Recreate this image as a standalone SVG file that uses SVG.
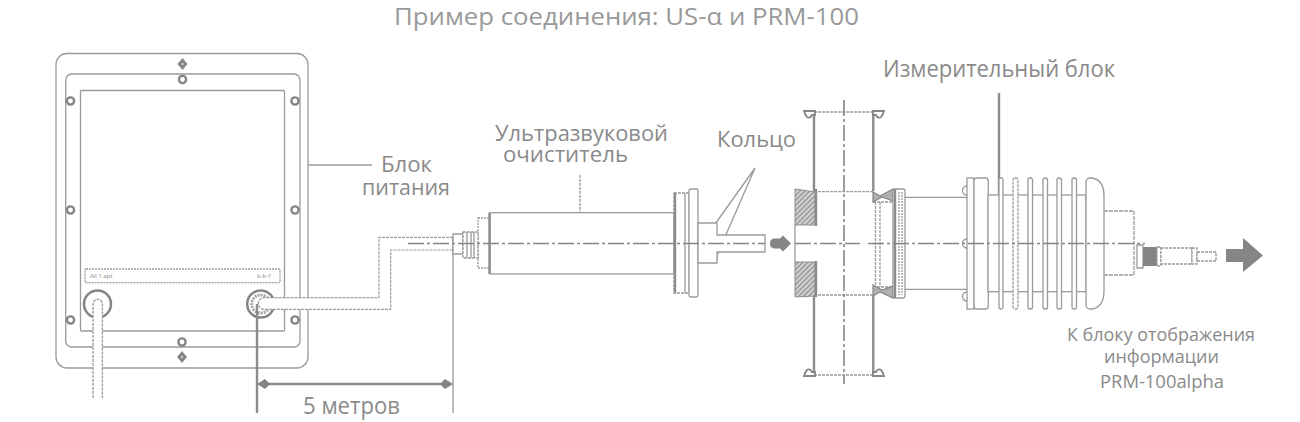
<svg xmlns="http://www.w3.org/2000/svg" width="1300" height="422" viewBox="0 0 1300 422">
<style>
.l{fill:none;stroke:#9a9a9a;stroke-width:1.3}
.w{fill:#fff;stroke:#9a9a9a;stroke-width:1.3}
.t{fill:none;stroke:#8c8c8c;stroke-width:2.4}
.c{fill:none;stroke:#858585;stroke-width:1.6;stroke-dasharray:16 3 3 3}
.s{fill:#fff;stroke:#858585;stroke-width:2.4}
.f{fill:#858585}
text{font-family:"Open Sans","Noto Sans","Liberation Sans",sans-serif;fill:#8a8a8a}
</style>
<defs>
<pattern id="h" width="3.5" height="3.5" patternUnits="userSpaceOnUse" patternTransform="rotate(45)"><rect width="3.5" height="3.5" fill="#d2d2d2"/><rect width="1.3" height="3.5" fill="#909090"/></pattern>
<g id="sc"><circle r="3.6" class="s"/></g>
<g id="dm"><path class="f" d="M0-6 5 0 0 6-5 0Z"/><circle r="1.2" fill="#ccc"/></g>
<path id="fl" fill="#fff" stroke="#858585" stroke-width="1.800" d="M0 0H11V4H8Q6 8 3 6Q1 4 0 0Z"/>
</defs>
<g id="title"><text x="394" y="25" font-size="23.500" fill="#999" style="fill:#999" textLength="465" lengthAdjust="spacingAndGlyphs">Пример соединения: US-α и PRM-100</text></g>
<g id="power-unit">
<rect class="l" x="56" y="53.500" width="252" height="314.500" rx="11"/>
<rect class="l" x="65.700" y="74" width="234.300" height="273" rx="6"/>
<rect class="l" x="80.500" y="90.500" width="204" height="240.500" rx="1"/>
<rect class="l" x="85" y="269" width="195" height="13.700" rx="1" stroke-dasharray="2 1"/>
<text x="90" y="278" font-size="6">All 1 apt</text>
<text x="257" y="278" font-size="6">b-b-f</text>
<use href="#dm" x="182.500" y="64"/><use href="#dm" x="182" y="357"/>
<use href="#sc" x="182.500" y="79.500"/><use href="#sc" x="182" y="342"/>
<use href="#sc" x="70.500" y="101"/><use href="#sc" x="295" y="101"/>
<use href="#sc" x="70.500" y="210"/><use href="#sc" x="295" y="210"/>
<use href="#sc" x="70.500" y="320"/><use href="#sc" x="295" y="320"/>
<circle cx="97.500" cy="304" r="13.500" fill="#fff" stroke="#858585" stroke-width="2.500"/>
<circle cx="260.700" cy="304" r="13.500" fill="#fff" stroke="#858585" stroke-width="2.500"/>
<circle cx="260.700" cy="304" r="9" fill="none" stroke="#a5a5a5" stroke-width="3" stroke-dasharray="2 1"/>
</g>
<g id="connectors">
<path class="w" d="M93 398V304a4.700 4.700 0 0 1 9.400 0V398" stroke-dasharray="3 1"/>
<path fill="#fff" stroke="#9a9a9a" stroke-width="1.200" stroke-dasharray="3 1" d="M453 237.300H379V297.700H264a5.800 5.800 0 0 0 0 11.600H390.700V250H453"/>
<path class="t" d="M257 304V413" stroke-width="1.800"/>
<path class="l" d="M453 237V413"/>
<path class="t" d="M264 384H446"/>
<path class="f" d="M257 384 265 379 270 384 265 389ZM453 384 445 379 440 384 445 389Z"/>
<path class="l" d="M308 165H372"/>
<path class="l" d="M580 175V213" stroke-dasharray="3 1"/>
<path class="l" d="M755 168 713 227M755 168 715 260"/>
<path class="f" d="M711 224 717 227 712 231ZM712 258 718 256 717 262 713 263Z"/>
<path class="t" d="M999 93V196" stroke-width="1.600"/>
<path class="f" d="M770 243.500q0-5 5-5h5l3-3 8 8-8 8-3-3h-5q-5 0-5-5Z"/>
<path class="f" d="M1226 249H1243V238L1263 255.500 1243 272V262H1226Z"/>
</g>
<g id="ultrasonic-cleaner">
<rect class="l" x="478" y="218" width="12" height="50" stroke-dasharray="2 1"/>
<path class="w" d="M453 234H463V254H453Z"/>
<rect class="w" x="463" y="232" width="15" height="26" stroke-dasharray="3 1"/>
<path class="l" d="M467 232V258M471 232V258M474 232V258"/>
<rect class="w" x="490" y="212.700" width="184" height="61.300"/>
<path class="t" d="M489.500 212.700V274" stroke-width="2"/>
<rect class="w" x="674" y="193" width="15" height="100" stroke-dasharray="3 1"/>
<path class="t" d="M675 193V293" stroke-width="1.800"/>
<path class="l" d="M685 193V293"/>
<rect class="w" x="689" y="189" width="9" height="108" rx="1.500"/>
<path class="w" d="M698 223H717V235H765V252H717V263H698Z"/>
</g>
<g id="cross-pipe">
<path class="l" d="M814 112H873M814 191.700H873M814 295H873M814 375H873" stroke-dasharray="3 1"/>
<path class="t" d="M814 113V191M873.300 113V191M814 296V375M873.300 296V375"/>
<use href="#fl" x="804" y="111"/>
<use href="#fl" transform="translate(884 111) scale(-1 1)"/>
<use href="#fl" transform="translate(804 376) scale(1 -1)"/>
<use href="#fl" transform="translate(884 376) scale(-1 -1)"/>
<path class="l" d="M795 225V262"/>
<path d="M795 189 815 192V225H795ZM795 262H815V296L795 297Z" fill="url(#h)" stroke="#8c8c8c" stroke-width="1"/>
<path class="t" d="M816 189V226M816 261V297" stroke-width="1.500"/>
<path class="l" d="M873 202H893M873 287H893M875.500 202V287M880 202V287" stroke-dasharray="3 1"/>
<path d="M873 192 880 196 893 189V201L882 197 873 202ZM873 285 882 290 893 286V298L880 292 873 296Z" fill="#b0b0b0" stroke="#858585" stroke-width="1.200"/>
<rect class="w" x="893" y="189" width="12" height="109" rx="2"/>
<path class="t" d="M895 189V298" stroke-width="2"/>
<path class="l" d="M899 192V295M902 192V295" stroke-dasharray="2 1"/>
</g>
<g id="measuring-block">
<path class="l" d="M905 197.300H967M905 289.300H967"/>
<rect class="w" x="967" y="178" width="7" height="131"/>
<path class="l" d="M967 186a4 4 0 0 0 0 9M967 239a4 4 0 0 0 0 9M967 292a4 4 0 0 0 0 9"/>
<rect class="w" x="974" y="178" width="14.300" height="131" rx="3"/>
<rect class="w" x="988" y="195" width="98" height="96.700"/>
<rect class="w" x="999" y="178" width="4" height="131" rx="1.500"/>
<rect class="w" x="1013" y="178" width="5" height="131" rx="2" stroke-dasharray="3 1"/>
<rect class="w" x="1028" y="178" width="4.500" height="131" rx="2"/>
<rect class="w" x="1043" y="178" width="4.500" height="131" rx="2"/>
<rect class="w" x="1057" y="178" width="4.500" height="131" rx="2"/>
<rect class="w" x="1072" y="178" width="4.500" height="131" rx="2"/>
<path class="w" d="M1104 211H1134V275H1104" stroke-dasharray="4 1"/>
<path class="w" d="M1086 182a4 4 0 0 1 4-4H1092Q1104 180 1104 196V291Q1104 307 1092 309H1090a4 4 0 0 1-4-4Z"/>
<path class="w" d="M1137 245H1143V268H1137Z"/>
<rect class="f" x="1143" y="247" width="14" height="19"/>
<rect class="w" x="1157" y="247" width="4" height="19" stroke-dasharray="3 1"/>
<rect class="w" x="1161" y="248" width="31" height="16" stroke-dasharray="3 1"/>
<rect class="w" x="1192" y="248" width="5" height="16" stroke-dasharray="3 1"/>
<rect class="w" x="1197" y="252" width="19" height="9" stroke-dasharray="3 1"/>
</g>
<g id="centerlines">
<path class="c" d="M408 243.500H765"/>
<path class="c" d="M795 243.500H860M868 243.500H1145"/>
<path class="c" d="M844 100V384"/>
</g>
<g id="labels">
<text x="381" y="172" font-size="22" textLength="51" lengthAdjust="spacingAndGlyphs">Блок</text>
<text x="362" y="195" font-size="21" textLength="88" lengthAdjust="spacingAndGlyphs">питания</text>
<text x="495" y="141" font-size="21" textLength="173" lengthAdjust="spacingAndGlyphs">Ультразвуковой</text>
<text x="503" y="162" font-size="21" textLength="125" lengthAdjust="spacingAndGlyphs">очиститель</text>
<text x="717" y="147" font-size="22" textLength="79" lengthAdjust="spacingAndGlyphs">Кольцо</text>
<text x="883" y="77" font-size="23" textLength="232" lengthAdjust="spacingAndGlyphs">Измерительный блок</text>
<text x="303" y="414" font-size="23" textLength="97" lengthAdjust="spacingAndGlyphs">5 метров</text>
<text x="1067" y="341" font-size="18" textLength="188" lengthAdjust="spacingAndGlyphs">К блоку отображения</text>
<text x="1104" y="363" font-size="18" textLength="115" lengthAdjust="spacingAndGlyphs">информации</text>
<text x="1100" y="388" font-size="18" textLength="124" lengthAdjust="spacingAndGlyphs">PRM-100alpha</text>
</g>
</svg>
